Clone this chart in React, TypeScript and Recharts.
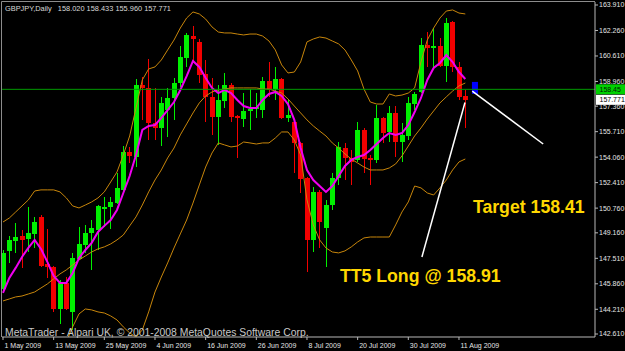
import {
  ComposedChart,
  Bar,
  Line,
  XAxis,
  YAxis,
  ReferenceLine,
  ReferenceArea,
  ReferenceDot,
} from "recharts";

const W = 625;
const H = 351;
const FONT = '"Liberation Sans", Arial, sans-serif';

const BULL = "#00F000";
const BEAR = "#F20000";
const BAND = "#C8860B";
const MA = "#F000F0";
const GOLD = "#FFD700";
const AXIS = "#B8B8B8";
const LABEL = "#E4E4E4";

const symbol = "GBPJPY";
const period = "Daily";

// daily candles, 1 May 2009 .. 12 Aug 2009
const opens = [
  145.53, 147.99, 148.63, 148.96, 148.76, 149.09, 150.19, 147.15, 146.95, 144.23,
  145.92, 144.04, 147.47, 148.38, 149.15, 149.35, 150.71, 150.84, 151.09, 151.94,
  154.4, 154.07, 158.73, 158.54, 156.27, 155.95, 157.11, 157.89, 158.86, 160.48,
  161.9, 161.51, 159.44, 157.96, 156.66, 157.7, 158.73, 156.73, 156.53, 157.05,
  157.18, 157.11, 158.99, 158.47, 159.12, 156.6, 156.34, 154.98, 152.71, 148.7,
  151.81, 149.48, 150.96, 152.71, 154.65, 154.01, 153.88, 155.82, 154.01, 153.88,
  156.6, 155.69, 156.92, 155.04, 155.43, 157.5, 158.28, 161.32, 161.13, 161.26,
  159.96, 162.81, 159.9, 158.02,
];
const highs = [
  148.05, 148.96, 149.8, 149.35, 150.84, 150.19, 150.32, 149.41, 147.0, 146.11,
  146.3, 147.86, 149.54, 149.67, 149.99, 150.96, 151.48, 151.48, 153.04, 154.78,
  154.72, 159.12, 159.25, 160.41, 158.54, 157.96, 158.54, 159.18, 161.26, 162.1,
  162.55, 161.71, 160.35, 159.18, 158.73, 159.51, 158.86, 156.79, 158.21, 158.47,
  158.21, 159.25, 160.22, 159.9, 159.18, 157.83, 156.47, 155.04, 152.78, 152.13,
  151.94, 151.29, 153.04, 155.04, 154.98, 154.52, 156.34, 155.95, 154.2, 157.44,
  156.66, 157.37, 157.37, 156.27, 157.96, 158.28, 161.77, 162.16, 162.42, 161.77,
  163.07, 162.87, 160.22, 158.433,
];
const lows = [
  145.33, 147.21, 147.86, 146.89, 147.92, 148.18, 146.95, 146.24, 144.04, 143.26,
  144.17, 142.87, 147.4, 147.86, 146.76, 148.05, 149.54, 149.41, 151.03, 151.87,
  153.68, 153.42, 156.47, 155.17, 155.17, 154.78, 155.37, 156.47, 158.6, 159.9,
  160.22, 158.86, 156.34, 155.5, 154.85, 157.24, 156.34, 154.01, 156.01, 155.82,
  156.6, 156.6, 157.96, 157.76, 156.53, 156.34, 153.04, 151.74, 146.63, 147.92,
  148.18, 146.95, 150.64, 152.26, 152.58, 152.26, 153.75, 153.04, 152.26, 153.68,
  154.98, 155.04, 154.07, 153.75, 155.17, 157.11, 158.21, 159.9, 159.9, 159.9,
  158.93, 159.57, 157.76, 155.96,
];
const closes = [
  147.86, 148.7, 148.89, 148.7, 149.15, 149.86, 147.02, 146.95, 144.23, 145.92,
  144.23, 147.53, 148.44, 149.15, 149.48, 150.9, 150.84, 151.16, 152.07, 154.4,
  154.14, 158.73, 158.54, 156.27, 155.95, 157.57, 157.89, 158.86, 160.54, 161.97,
  161.71, 159.38, 157.96, 156.66, 157.76, 158.73, 156.66, 156.6, 157.05, 157.18,
  157.31, 158.99, 158.41, 159.12, 156.6, 156.79, 154.98, 152.65, 148.7, 151.81,
  149.86, 150.96, 152.71, 154.72, 154.01, 153.75, 155.82, 153.94, 153.88, 156.6,
  155.62, 156.92, 155.04, 155.5, 157.57, 158.15, 161.32, 161.13, 161.26, 159.96,
  162.75, 159.9, 157.96, 157.771,
];

// Bollinger bands and the fast moving average
const upperBand = [
  149.86, 150.12, 150.51, 150.9, 151.29, 151.87, 151.94, 151.94, 151.94, 151.81,
  151.42, 150.9, 150.77, 150.96, 151.16, 151.42, 151.81, 152.45, 153.1, 154.2,
  155.43, 157.24, 159.06, 159.77, 159.9, 160.35, 161.0, 161.64, 162.42, 163.07,
  163.46, 163.33, 163.0, 162.49, 162.16, 162.1, 162.1, 162.03, 161.97, 162.03,
  162.03, 161.9, 161.58, 161.0, 160.03, 159.51, 159.57, 160.22, 161.52, 161.71,
  161.84, 161.77, 161.58, 161.39, 161.0, 160.35, 159.64, 158.47, 157.63, 157.5,
  157.5, 158.15, 158.02, 158.08, 158.21, 158.54, 160.22, 161.64, 162.42, 163.07,
  163.52, 163.59, 163.39, 163.33,
];
const middleBand = [
  144.75, 144.88, 145.01, 145.07, 145.2, 145.33, 145.59, 145.85, 146.18, 146.5,
  146.76, 147.08, 147.4, 147.66, 147.92, 148.12, 148.25, 148.44, 148.7, 149.02,
  149.61, 150.19, 150.96, 151.81, 152.58, 153.23, 154.01, 154.65, 155.5, 156.21,
  156.92, 157.57, 158.02, 158.28, 158.41, 158.47, 158.54, 158.54, 158.54, 158.54,
  158.54, 158.47, 158.47, 158.34, 158.21, 157.83, 157.37, 156.92, 156.47, 156.08,
  155.75, 155.43, 154.98, 154.65, 154.27, 153.94, 153.68, 153.42, 153.23, 153.23,
  153.23, 153.36, 153.62, 154.14, 154.78, 155.43, 155.95, 156.53, 157.05, 157.57,
  157.96, 158.34, 158.67, 158.86,
];
const lowerBand = [
  139.51, 139.64, 139.77, 139.96, 140.16, 140.41, 140.8, 141.06, 141.45, 141.71,
  142.1, 143.07, 143.91, 144.23, 144.17, 144.04, 143.97, 143.78, 143.52, 143.07,
  142.68, 142.42, 142.87, 144.04, 145.33, 146.3, 147.21, 148.18, 149.09, 149.99,
  151.09, 152.26, 153.42, 154.33, 154.98, 154.85, 154.72, 154.78, 155.04, 154.98,
  154.91, 154.98, 154.98, 155.3, 155.69, 155.69, 155.17, 154.2, 151.29, 149.67,
  148.7, 148.18, 147.92, 147.86, 147.99, 148.25, 148.57, 148.83, 148.89, 148.89,
  148.89, 148.89, 149.67, 150.51, 151.16, 152.19, 152.07, 151.74, 151.61, 152.07,
  152.58, 153.23, 153.75, 153.94,
];
const fastMa = [
  145.27, 146.24, 146.89, 147.6, 148.18, 148.7, 148.12, 147.28, 146.37, 145.92,
  145.92, 146.56, 147.53, 148.05, 148.51, 149.22, 149.61, 149.99, 150.64, 151.74,
  152.84, 154.2, 155.82, 156.08, 156.14, 156.6, 157.11, 157.63, 158.41, 159.31,
  160.29, 159.9, 159.18, 158.54, 158.21, 158.41, 158.21, 157.76, 157.37, 157.24,
  157.24, 157.76, 158.15, 158.28, 158.02, 157.5, 156.47, 154.65, 153.23, 152.58,
  152.19, 151.81, 152.19, 152.84, 153.49, 153.88, 154.07, 154.2, 154.52, 154.91,
  155.3, 155.62, 155.5, 155.62, 156.14, 156.98, 157.89, 159.06, 159.83, 160.16,
  160.67, 160.22, 159.57, 159.12,
];

const dateTicks = [0, 8, 16, 24, 32, 40, 48, 56, 64, 72];
const dateLabels = [
  "1 May 2009", "13 May 2009", "25 May 2009", "4 Jun 2009", "16 Jun 2009",
  "26 Jun 2009", "8 Jul 2009", "20 Jul 2009", "30 Jul 2009", "11 Aug 2009",
];
const priceTicks = [
  163.91, 162.26, 160.61, 158.96, 157.36, 155.71, 154.06, 152.41, 150.76,
  149.16, 147.51, 145.86, 144.21, 142.61,
];

const levelPrice = 158.45;
const entryPrice = 158.91;
const targetPrice = 158.41;

// trade annotation (bar index, price)
const entryArrow = [{ x: 72.95, y: 157.6 }, { x: 66.15, y: 147.6 }];
const targetArrow = [{ x: 74.1, y: 158.34 }, { x: 85.3, y: 154.91 }];
const entryBox = { x1: 74.05, x2: 75.0, y1: 158.15, y2: 158.93 };
const entryNote = { x: 53.2, y: 145.98 };
const targetNote = { x: 74.2, y: 150.44 };

const rows = opens.map((open, i) => ({
  i,
  open,
  high: highs[i],
  low: lows[i],
  close: closes[i],
  upper: upperBand[i],
  middle: middleBand[i],
  lower: lowerBand[i],
  ma: fastMa[i],
}));

const last = rows.length - 1;

function Candle(props: any) {
  const { x, y, width, height, payload } = props;
  if (!payload || x == null) return null;
  const { open, high, low, close } = payload;
  const top = Math.min(y, y + height);
  const span = Math.abs(height);
  const toY = (v: number) => top + ((high - v) / (high - low)) * span;
  const cx = x + width / 2;
  const color = close >= open ? BULL : BEAR;
  const bTop = toY(Math.max(open, close));
  const bBot = toY(Math.min(open, close));
  return (
    <g shapeRendering="crispEdges">
      <line x1={cx} x2={cx} y1={top} y2={top + span} stroke={color} />
      <rect x={cx - 2.5} y={bTop} width={5} height={Math.max(1, bBot - bTop)} fill={color} />
    </g>
  );
}

function DateTick({ x, y, payload }: any) {
  const label = dateLabels[dateTicks.indexOf(payload.value)];
  return (
    <text x={x + 1.5} y={y} dy={6.3} fill={LABEL} fontSize={7} fontFamily={FONT}>
      {label}
    </text>
  );
}

function AxisTag({ viewBox, text, fill, color }: any) {
  if (!viewBox) return null;
  const left = viewBox.x + viewBox.width + 1;
  return (
    <g>
      <rect x={left} y={viewBox.y - 5} width={40} height={10} fill={fill} />
      <text x={left + 3.5} y={viewBox.y} dy="0.36em" fill={color} fontSize={7} fontFamily={FONT}>
        {text}
      </text>
    </g>
  );
}

function Note({ viewBox, text }: any) {
  if (!viewBox) return null;
  return (
    <text x={viewBox.x} y={viewBox.y} fill={GOLD} fontSize={17.7} fontWeight="bold" fontFamily={FONT}>
      {text}
    </text>
  );
}

export default function App() {
  const cur = rows[last];
  const header = `${symbol},${period}   ${cur.open.toFixed(3)} ${cur.high.toFixed(3)} ${cur.low.toFixed(3)} ${cur.close.toFixed(3)}`;

  return (
    <div
      style={{
        position: "absolute",
        left: 0,
        top: 0,
        width: W,
        height: H,
        background: "#000",
        overflow: "hidden",
      }}
    >
      <ComposedChart width={W} height={H} data={rows} margin={{ top: 2, right: 0, bottom: 0, left: 2 }}>
        <XAxis
          dataKey="i"
          type="number"
          domain={[-0.158, 93.48]}
          allowDataOverflow
          ticks={dateTicks}
          interval={0}
          height={14}
          tickSize={3}
          axisLine={{ stroke: AXIS }}
          tickLine={{ stroke: AXIS }}
          tick={<DateTick />}
        />
        <YAxis
          orientation="right"
          type="number"
          domain={[142.416, 164.104]}
          allowDataOverflow
          ticks={priceTicks}
          interval={0}
          width={30}
          tickSize={3}
          tickMargin={1}
          axisLine={{ stroke: AXIS }}
          tickLine={{ stroke: AXIS }}
          tickFormatter={(v: number) => v.toFixed(3)}
          tick={{ fill: LABEL, fontSize: 7, fontFamily: FONT }}
        />

        <Bar
          dataKey={(d: any) => [d.low, d.high]}
          barSize={5}
          shape={(p: any) => <Candle {...p} />}
          isAnimationActive={false}
        />

        <Line dataKey="upper" stroke={BAND} strokeWidth={1} dot={false} isAnimationActive={false} />
        <Line dataKey="middle" stroke={BAND} strokeWidth={1} dot={false} isAnimationActive={false} />
        <Line dataKey="lower" stroke={BAND} strokeWidth={1} dot={false} isAnimationActive={false} />
        <Line dataKey="ma" stroke={MA} strokeWidth={2} dot={false} isAnimationActive={false} />

        <ReferenceLine
          y={levelPrice}
          stroke="#009A00"
          strokeWidth={1}
          label={<AxisTag text={levelPrice.toFixed(2)} fill="#00D000" color="#002000" />}
        />
        <ReferenceLine
          y={cur.close}
          stroke="none"
          strokeWidth={0}
          label={<AxisTag text={cur.close.toFixed(3)} fill="#FFFFFF" color="#000000" />}
        />

        <ReferenceArea {...entryBox} fill="#0000FF" fillOpacity={1} stroke="none" ifOverflow="visible" />
        <ReferenceLine segment={entryArrow} stroke="#FFFFFF" strokeWidth={1.5} ifOverflow="visible" />
        <ReferenceLine segment={targetArrow} stroke="#FFFFFF" strokeWidth={1.5} ifOverflow="visible" />

        <ReferenceDot
          x={entryNote.x}
          y={entryNote.y}
          r={0}
          fill="none"
          stroke="none"
          label={<Note text={`TT5 Long @ ${entryPrice.toFixed(2)}`} />}
        />
        <ReferenceDot
          x={targetNote.x}
          y={targetNote.y}
          r={0}
          fill="none"
          stroke="none"
          label={<Note text={`Target ${targetPrice.toFixed(2)}`} />}
        />
      </ComposedChart>

      {/* chart frame, symbol header and terminal credit */}
      <svg
        width={W}
        height={H}
        style={{ position: "absolute", left: 0, top: 0, pointerEvents: "none" }}
      >
        <line x1={1.5} x2={1.5} y1={1.5} y2={337} stroke="#8C8C8C" />
        <line x1={1.5} x2={595} y1={1.5} y2={1.5} stroke="#8C8C8C" />
        <text x={5} y={11} fill="#DADADA" fontSize={7.4} fontFamily={FONT} style={{ whiteSpace: "pre" }}>
          {header}
        </text>
        <text x={5} y={335.5} fill="#C8C8C8" fontSize={10.4} fontFamily={FONT}>
          MetaTrader - Alpari UK, © 2001-2008 MetaQuotes Software Corp.
        </text>
      </svg>
    </div>
  );
}
